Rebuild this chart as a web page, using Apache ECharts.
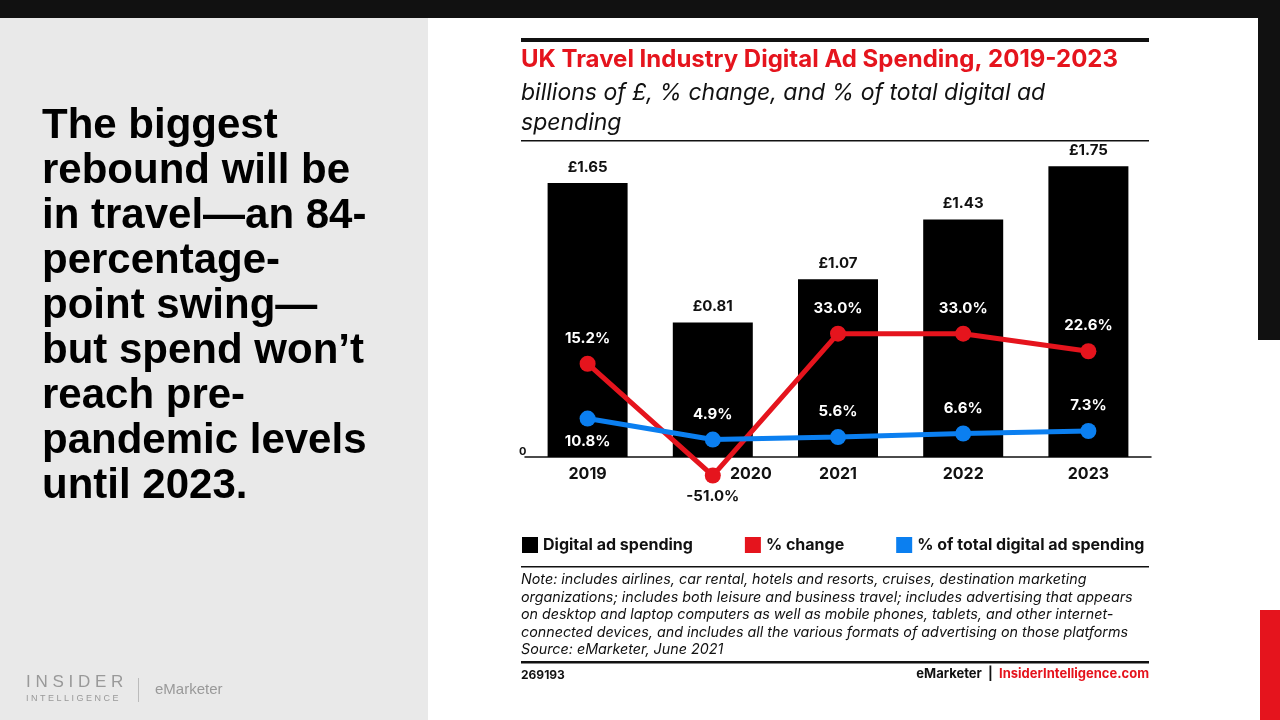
<!DOCTYPE html>
<html>
<head>
<meta charset="utf-8">
<script src="https://cdn.jsdelivr.net/npm/echarts@6/dist/echarts.min.js"></script>
<style>
html,body{margin:0;padding:0;background:#fff;}
#chart{width:1280px;height:720px;}
</style>
</head>
<body>
<div id="chart"></div>
<script>
var years = ['2019', '2020', '2021', '2022', '2023'];
var spending = [1.65, 0.81, 1.07, 1.43, 1.75];
var pctChange = [15.2, -51.0, 33.0, 33.0, 22.6];
var pctTotal = [10.8, 4.9, 5.6, 6.6, 7.3];

var RED = '#e5141d', BLUE = '#0b7ff0';
var F = 'Inter, "Noto Sans", sans-serif';

var headline = ['The biggest', 'rebound will be', 'in travel\u2014an 84-', 'percentage-',
  'point swing\u2014', 'but spend won\u2019t', 'reach pre-', 'pandemic levels', 'until 2023.'];
var notes = ['Note: includes airlines, car rental, hotels and resorts, cruises, destination marketing',
  'organizations; includes both leisure and business travel; includes advertising that appears',
  'on desktop and laptop computers as well as mobile phones, tablets, and other internet-',
  'connected devices, and includes all the various formats of advertising on those platforms',
  'Source: eMarketer, June 2021'];

var graphics = [
  { type: 'rect', shape: { x: 0, y: 0, width: 1280, height: 18 }, style: { fill: '#111' } },
  { type: 'rect', shape: { x: 0, y: 18, width: 428, height: 702 }, style: { fill: '#e9e9e9' } },
  { type: 'rect', shape: { x: 1258, y: 18, width: 22, height: 322 }, style: { fill: '#111' } },
  { type: 'rect', shape: { x: 1260, y: 610, width: 20, height: 110 }, style: { fill: RED } },
  { type: 'rect', shape: { x: 521, y: 38, width: 628, height: 4 }, style: { fill: '#111' } },
  { type: 'rect', shape: { x: 521, y: 140, width: 628, height: 1.5 }, style: { fill: '#111' } },
  { type: 'rect', shape: { x: 521, y: 566, width: 628, height: 1.5 }, style: { fill: '#111' } },
  { type: 'rect', shape: { x: 521, y: 661, width: 628, height: 2.5 }, style: { fill: '#111' } },
  { type: 'text', left: 521, top: 48, style: { text: 'UK Travel Industry Digital Ad Spending, 2019-2023', fill: RED, font: 'bold 24px ' + F } },
  { type: 'text', left: 521, top: 78, style: { text: 'billions of \u00a3, % change, and % of total digital ad\nspending', fill: '#111', font: 'italic 23px ' + F, lineHeight: 30 } },
  { type: 'text', left: 521, top: 571, style: { text: notes.join('\n'), fill: '#111', font: 'italic 14.3px ' + F, lineHeight: 17.5 } },
  { type: 'text', left: 521, top: 669, style: { text: '269193', fill: '#111', font: 'bold 12px ' + F } },
  { type: 'text', right: 131, top: 668, style: { text: '{a|eMarketer  |  }{b|InsiderIntelligence.com}', rich: { a: { fill: '#111', font: 'bold 13px ' + F }, b: { fill: RED, font: 'bold 13px ' + F } } } },
  { type: 'text', left: 519, top: 446, style: { text: '0', fill: '#111', font: 'bold 11px ' + F } },
  { type: 'text', left: 42, top: 104, style: { text: headline.join('\n'), fill: '#000', font: 'bold 42px "Liberation Sans", Arial, sans-serif', lineHeight: 45 } },
  { type: 'text', left: 26, top: 674, style: { text: 'I N S I D E R', fill: '#999', font: '17px "Liberation Sans", sans-serif' } },
  { type: 'text', left: 26, top: 694, style: { text: 'I N T E L L I G E N C E', fill: '#999', font: '9px "Liberation Sans", sans-serif' } },
  { type: 'rect', shape: { x: 138, y: 678, width: 1, height: 24 }, style: { fill: '#bbb' } },
  { type: 'text', left: 155, top: 682, style: { text: 'eMarketer', fill: '#999', font: '15px "Liberation Sans", sans-serif' } }
];

var chart = echarts.init(document.getElementById('chart'));
chart.setOption({
  animation: false,
  textStyle: { fontFamily: F },
  grid: { left: 525, right: 129, top: 163, bottom: 263 },
  legend: {
    left: 517, top: 532, itemWidth: 16, itemHeight: 16, itemGap: 52,
    textStyle: { fontSize: 16, fontWeight: 'bold', color: '#111', fontFamily: F },
    data: [
      { name: 'Digital ad spending', icon: 'rect', itemStyle: { color: '#000' } },
      { name: '% change', icon: 'rect', itemStyle: { color: RED } },
      { name: '% of total digital ad spending', icon: 'rect', itemStyle: { color: BLUE } }
    ]
  },
  xAxis: {
    type: 'category', data: years,
    axisLine: { lineStyle: { color: '#111', width: 1.5 } }, axisTick: { show: false },
    axisLabel: { color: '#111', fontSize: 16, fontWeight: 'bold', margin: 9,
      formatter: function (v) { return v === '2020' ? '{s|' + v + '}' : v; },
      rich: { s: { color: '#111', fontSize: 16, fontWeight: 'bold', padding: [0, 0, 0, 76] } } }
  },
  yAxis: [
    { type: 'value', min: 0, max: 1.77, show: false, splitLine: { show: false } },
    { type: 'value', min: -40, max: 134, show: false, splitLine: { show: false } },
    { type: 'value', min: 0, max: 82.6, show: false, splitLine: { show: false } }
  ],
  series: [
    {
      name: 'Digital ad spending', type: 'bar', data: spending, barWidth: 80,
      itemStyle: { color: '#000' },
      label: { show: true, position: 'top', color: '#111', fontSize: 15, fontWeight: 'bold', distance: 8,
        formatter: function (p) { return '\u00a3' + p.value.toFixed(2); } }
    },
    {
      name: '% change', type: 'line', yAxisIndex: 1, clip: false,
      data: pctChange.map(function (v, i) { return i === 1 ? { value: v, label: { color: '#111' } } : v; }),
      lineStyle: { color: RED, width: 5 }, itemStyle: { color: RED },
      symbol: 'circle', symbolSize: 16, z: 3,
      label: { show: true, position: 'top', distance: 10, color: '#fff', fontSize: 15, fontWeight: 'bold',
        formatter: function (p) { return p.value.toFixed(1) + '%'; } },
      labelLayout: function (p) { return p.dataIndex === 1 ? { dy: 46 } : {}; }
    },
    {
      name: '% of total digital ad spending', type: 'line', yAxisIndex: 2, data: pctTotal,
      lineStyle: { color: BLUE, width: 5 }, itemStyle: { color: BLUE },
      symbol: 'circle', symbolSize: 16, z: 4,
      label: { show: true, position: 'top', distance: 10, color: '#fff', fontSize: 15, fontWeight: 'bold',
        formatter: function (p) { return p.value.toFixed(1) + '%'; } },
      labelLayout: function (p) { return p.dataIndex === 0 ? { dy: 48 } : {}; }
    }
  ],
  graphic: graphics
});
</script>
</body>
</html>
